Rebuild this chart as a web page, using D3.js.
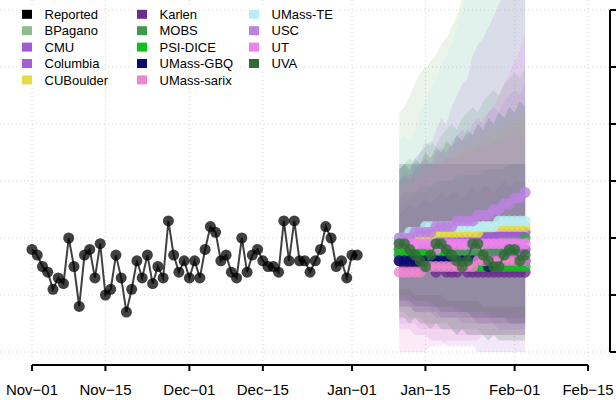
<!DOCTYPE html>
<html lang="en">
<head>
    <meta charset="UTF-8">
    <title>Reported and forecast counts</title>
    <script src="https://d3js.org/d3.v7.min.js"></script>
    <style>
        body{
            margin: 0;
            background-color: #ffffff;
        }
        svg text{
            font-family: "Liberation Sans", Arial, sans-serif;
        }
        .grid line{
            stroke: #d3d3d3;
            stroke-width: 1px;
            stroke-dasharray: 1,3;
        }
        .legend_label{
            font-size: 13px;
        }
        .tick_label{
            font-size: 15px;
        }
    </style>
</head>
<body>
<svg id="canvas" width="616" height="400"></svg>
<script>
    // observed daily counts, one per day from Nov-01
    let reportedStart = "2020-11-01"
    let reported = [18,17,15,14,11,13,12,20,15,8,17,18,13,19,10,11,17,13,7,11,
        16,13,17,12,15,13,23,17,14,16,13,16,13,18,22,21,16,17,14,13,
        20,14,17,18,16,15,15,14,23,16,23,16,16,14,16,18,22,20,15,16,
        13,17,17]

    // forecasts, one per day from Jan-10 (median, lower, upper)
    let forecastStart = "2021-01-10"

    let bpagano_med = [18,18,17,18,18,18,17,18,18,18,18,17,18,18,18,18,17,18,18,18,18,18,17,18,18]
    let bpagano_lo  = [9,9,8,8,8,8,7,7,7,7,7,7,6,6,6,6,6,6,5,5,5,5,5,5,5]
    let bpagano_hi  = [42,43,45,47,49,50,51,52,54,55,57,59,62,65,68,71,74,77,80,83,86,89,92,95,98]

    let cmu_med = [18,18,18,18,18,19,19,19,19,19,19,19,20,20,20,20,20,20,20,21,21,21,21,21,21]
    let cmu_lo  = [8,8,8,7,7,7,7,6,6,6,6,6,5,5,5,5,5,5,5,4,4,4,4,4,4]
    let cmu_hi  = [30,31,30,32,33,34,33,35,36,35,37,38,39,38,40,41,40,42,43,42,44,45,46,45,47]

    let columbia_med = [17,17,17,18,17,17,17,17,17,18,17,17,17,17,18,17,17,17,17,18,17,17,17,17,18]
    let columbia_lo  = [10,10,9,9,9,9,8,8,8,8,8,7,7,7,7,7,7,6,6,6,6,6,6,6,6]
    let columbia_hi  = [26,27,27,28,28,28,29,29,29,30,30,30,30,31,31,31,31,32,32,32,32,33,33,33,33]

    let cuboulder_med = [19,19,19,19,20,20,20,21,21,21,21,21,21,21,21,21,22,22,22,22,22,22,22,22,22]
    let cuboulder_lo  = [10,10,10,9,9,9,9,9,8,8,8,8,8,8,7,7,7,7,7,7,7,6,6,6,6]
    let cuboulder_hi  = [29,30,30,31,31,32,32,33,33,34,34,35,35,36,36,37,37,38,38,39,39,40,40,41,41]

    let karlen_med = [16,15,15,15,15,15,15,14,15,14,14,14,15,14,14,14,14,14,14,14,14,14,14,14,14]
    let karlen_lo  = [8,8,8,7,7,7,7,7,6,6,6,6,6,6,6,5,5,5,5,5,5,5,5,5,5]
    let karlen_hi  = [24,25,26,25,26,27,26,27,28,27,28,28,27,28,29,28,29,29,28,29,30,29,30,30,30]

    let mobs_med = [17,17,17,17,17,17,17,17,17,17,17,17,17,17,17,17,17,18,18,18,18,18,18,19,20]
    let mobs_lo  = [7,7,6,6,6,5,5,5,5,5,4,4,4,4,4,4,3,3,3,3,3,3,3,3,3]
    let mobs_hi  = [32,33,34,33,35,36,37,36,38,39,40,39,41,42,43,42,44,45,46,45,47,48,49,48,50]

    let psidice_med = [18,18,17,17,17,17,17,17,17,17,16,16,16,16,16,15,15,15,15,15,15,15,15,15,15]
    let psidice_lo  = [10,10,10,9,9,9,9,8,8,8,8,8,7,7,7,7,7,7,6,6,6,6,6,6,6]
    let psidice_hi  = [27,28,28,28,29,29,29,30,30,30,30,31,31,31,31,31,32,32,32,32,32,33,33,33,33]

    let gbq_med = [16,16,16,16,16,16,16,16,16,16,16,16,16,16,16,16,16,15,16,16,16,16,16,16,16]
    let gbq_lo  = [9,9,9,8,8,8,8,8,7,7,7,7,7,7,6,6,6,6,6,6,6,5,5,5,5]
    let gbq_hi  = [33,33,33,33,33,33,33,33,33,33,33,33,33,33,33,33,33,33,33,33,33,33,33,33,33]

    let sarix_med = [14,14,14,14,14,15,15,15,15,15,15,15,15,15,15,16,16,16,16,16,16,16,16,16,16]
    let sarix_lo  = [0,0,0,0,0,0,1,1,1,2,2,2,2,2,2,2,3,3,3,3,3,3,3,3,3]
    let sarix_hi  = [30,30,31,31,32,32,33,33,33,34,34,34,35,35,35,36,36,36,37,37,37,38,38,38,38]

    let te_med = [20,20,21,21,21,22,22,22,22,22,22,22,22,22,22,22,22,22,22,23,23,23,23,23,23]
    let te_lo  = [11,11,11,10,10,10,10,10,10,9,9,9,9,9,9,9,8,8,8,8,8,8,8,8,8]
    let te_hi  = [37,38,37,39,42,44,46,48,50,52,54,57,60,63,65,68,70,73,75,78,80,83,85,88,90]

    let usc_med = [20,20,20,21,21,21,21,22,22,22,22,23,23,23,23,24,24,24,25,25,26,26,27,27,28]
    let usc_lo  = [4,4,4,3,3,3,2,2,2,1,1,1,1,1,1,0,0,0,0,0,0,0,0,0,0]
    let usc_hi  = [30,32,31,34,35,37,36,39,41,40,43,45,47,48,52,54,55,57,59,61,63,65,67,69,71]

    let ut_med = [19,19,19,19,19,19,19,18,19,19,19,19,19,19,19,19,19,19,19,19,19,19,19,19,19]
    let ut_lo  = [5,5,5,5,4,4,4,4,4,4,4,3,3,3,3,3,3,3,3,3,3,3,3,3,3]
    let ut_hi  = [28,29,28,30,31,33,32,34,35,34,36,37,38,37,39,40,41,42,43,45,47,49,51,53,56]

    let uva_med = [19,19,18,17,16,15,17,19,19,18,17,16,15,16,19,19,17,16,15,15,17,18,18,16,17]
    let uva_lo  = [6,6,5,6,5,5,4,5,4,4,4,3,4,3,3,3,3,2,3,2,2,2,2,2,2]
    let uva_hi  = [32,33,32,34,33,35,34,36,35,37,36,38,37,39,38,40,39,41,40,42,41,43,42,44,43]

    let modelNames = ["BPagano","CMU","Columbia","CUBoulder","Karlen","MOBS","PSI-DICE",
        "UMass-GBQ","UMass-sarix","UMass-TE","USC","UT","UVA"]
    let modelColors = ["#8fbc8f","#a05ad6","#a85cd2","#e5dc4a","#6b2d8e","#3f9a4f","#10c01a",
        "#0a0a6e","#ee88cc","#b8eef4","#bb82e0","#ee82ee","#2e6b35"]

    let xTicks = ["2020-11-01","2020-11-15","2020-12-01","2020-12-15","2021-01-01","2021-01-15","2021-02-01","2021-02-15"]
    let xTickLabels = ["Nov\u221201","Nov\u221215","Dec\u221201","Dec\u221215","Jan\u221201","Jan\u221215","Feb\u221201","Feb\u221215"]
    let yTicks = [0,10,20,30,40,50,60]

    let models = [
        [bpagano_med,bpagano_lo,bpagano_hi],
        [cmu_med,cmu_lo,cmu_hi],
        [columbia_med,columbia_lo,columbia_hi],
        [cuboulder_med,cuboulder_lo,cuboulder_hi],
        [karlen_med,karlen_lo,karlen_hi],
        [mobs_med,mobs_lo,mobs_hi],
        [psidice_med,psidice_lo,psidice_hi],
        [gbq_med,gbq_lo,gbq_hi],
        [sarix_med,sarix_lo,sarix_hi],
        [te_med,te_lo,te_hi],
        [usc_med,usc_lo,usc_hi],
        [ut_med,ut_lo,ut_hi],
        [uva_med,uva_lo,uva_hi]
    ].map(function (m, i){
        return {name: modelNames[i], color: modelColors[i], med: m[0], lo: m[1], hi: m[2]}
    })

    main()

    function dayOffset(start, i){
        let d = new Date(start + "T00:00:00Z")
        d.setUTCDate(d.getUTCDate() + i)
        return d
    }

    function main(){
        let svg = d3.select('#canvas')
        let plot = {left: -30, right: 610, top: -20, bottom: 365}

        let xScale = d3.scaleUtc()
            .domain([new Date("2020-11-01T00:00:00Z"), new Date("2021-01-01T00:00:00Z")])
            .range([32, 352])
        let yScale = d3.scaleLinear().domain([0, 60]).range([352, 10])

        svg.append("defs").append("clipPath").attr("id","plotClip")
            .append("rect")
            .attr("x",plot.left).attr("y",plot.top)
            .attr("width",plot.right-plot.left).attr("height",plot.bottom-plot.top)

        // dotted grid
        let grid = svg.append('g').attr("class","grid")
        grid.selectAll("line.h").data(yTicks).enter().append("line")
            .attr("class","h")
            .attr("x1",0).attr("x2",plot.right)
            .attr("y1",d => yScale(d)).attr("y2",d => yScale(d))
        grid.selectAll("line.v").data(xTicks).enter().append("line")
            .attr("class","v")
            .attr("x1",d => xScale(new Date(d+"T00:00:00Z")))
            .attr("x2",d => xScale(new Date(d+"T00:00:00Z")))
            .attr("y1",0).attr("y2",plot.bottom-2)

        let marks = svg.append('g').attr("clip-path","url(#plotClip)")

        // forecast intervals
        let bandGen = d3.area()
            .x((d, i) => xScale(dayOffset(forecastStart, i)))
            .y0(d => yScale(d[0]))
            .y1(d => yScale(d[1]))
        marks.selectAll("path.band").data(models).enter().append("path")
            .attr("class","band")
            .attr("d",m => bandGen(m.lo.map((v, i) => [v, m.hi[i]])))
            .style("fill",m => m.color)
            .style("fill-opacity",0.18)
            .style("stroke","none")

        // forecast medians
        let medLine = d3.line()
            .x((d, i) => xScale(dayOffset(forecastStart, i)))
            .y(d => yScale(d))
        models.forEach(function (m){
            let g = marks.append('g')
            g.append("path")
                .attr("d",medLine(m.med))
                .style("fill","none")
                .style("stroke",m.color)
                .style("stroke-width",2)
                .style("stroke-opacity",0.8)
            g.selectAll("circle").data(m.med).enter().append("circle")
                .attr("cx",(d, i) => xScale(dayOffset(forecastStart, i)))
                .attr("cy",d => yScale(d))
                .attr("r",5.5)
                .style("fill",m.color)
                .style("fill-opacity",0.8)
        })

        // reported
        let rep = marks.append('g')
        rep.append("path")
            .attr("d",d3.line()
                .x((d, i) => xScale(dayOffset(reportedStart, i)))
                .y(d => yScale(d))(reported))
            .style("fill","none")
            .style("stroke","#000")
            .style("stroke-width",2)
            .style("stroke-opacity",0.75)
        rep.selectAll("circle").data(reported).enter().append("circle")
            .attr("cx",(d, i) => xScale(dayOffset(reportedStart, i)))
            .attr("cy",d => yScale(d))
            .attr("r",5.5)
            .style("fill","#000")
            .style("fill-opacity",0.75)

        // bottom axis
        let firstTick = xScale(new Date(xTicks[0]+"T00:00:00Z"))
        let lastTick = xScale(new Date(xTicks[xTicks.length-1]+"T00:00:00Z"))
        let xAxis = svg.append('g')
        xAxis.append("line")
            .attr("x1",firstTick).attr("x2",lastTick)
            .attr("y1",plot.bottom).attr("y2",plot.bottom)
            .style("stroke","#000").style("stroke-width",2)
        xAxis.selectAll("line.tick").data(xTicks).enter().append("line")
            .attr("class","tick")
            .attr("x1",d => xScale(new Date(d+"T00:00:00Z")))
            .attr("x2",d => xScale(new Date(d+"T00:00:00Z")))
            .attr("y1",plot.bottom).attr("y2",plot.bottom+6)
            .style("stroke","#000").style("stroke-width",2)
        xAxis.selectAll("text").data(xTicks).enter().append("text")
            .attr("class","tick_label")
            .attr("x",d => xScale(new Date(d+"T00:00:00Z")))
            .attr("y",395)
            .attr("text-anchor","middle")
            .text((d, i) => xTickLabels[i])

        // right axis (labels fall outside the window)
        let yAxis = svg.append('g')
        yAxis.append("line")
            .attr("x1",plot.right).attr("x2",plot.right)
            .attr("y1",yScale(yTicks[yTicks.length-1])).attr("y2",yScale(yTicks[0]))
            .style("stroke","#000").style("stroke-width",2)
        yAxis.selectAll("line.tick").data(yTicks).enter().append("line")
            .attr("class","tick")
            .attr("x1",plot.right).attr("x2",plot.right+7)
            .attr("y1",d => yScale(d)).attr("y2",d => yScale(d))
            .style("stroke","#000").style("stroke-width",2)

        // legend, three columns of five
        let entries = [{name:"Reported", color:"#000000"}].concat(models)
        let colX = [22, 137, 249]
        let legend = svg.append('g')
        entries.forEach(function (e, i){
            let col = Math.floor(i/5)
            let row = i % 5
            let x = colX[col]
            let y = 14.3 + row*16.4
            let g = legend.append('g')
            let bg = g.append("rect")
                .attr("y",y-8).attr("height",16)
                .style("fill","#fff")
            g.append("rect")
                .attr("x",x).attr("y",y-4.5)
                .attr("width",10).attr("height",9)
                .style("fill",e.color)
            let t = g.append("text")
                .attr("class","legend_label")
                .attr("x",x+22.5).attr("y",y+4.6)
                .text(e.name)
            let w = t.node().getComputedTextLength()
            bg.attr("x",x-1).attr("width",w+28)
        })
    }
</script>
</body>
</html>
